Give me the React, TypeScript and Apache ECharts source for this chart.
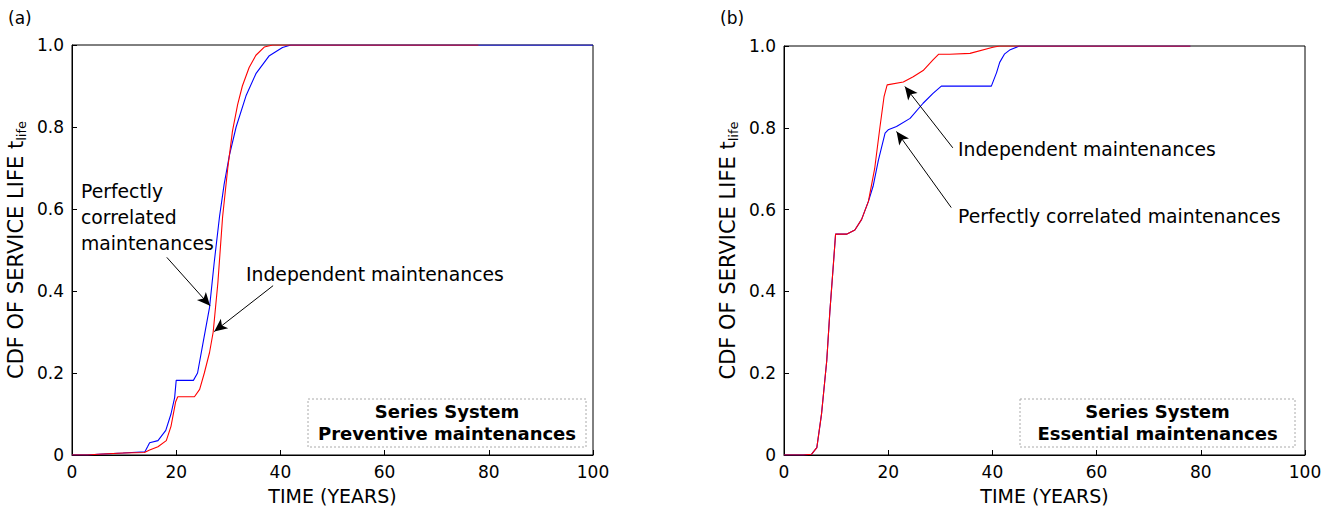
import React, { useEffect, useRef } from "react";
import * as echarts from "echarts";

// ---------- data ----------
// (a) Preventive maintenances
const aCorrT = [0, 3, 5, 9.8, 14, 14.5, 14.9, 16.5, 18, 19, 19.7, 20, 23.3, 24.1, 25.1, 26.4, 27.3, 28.3, 29.2, 30.2, 31.5, 33.4, 35.3, 37.8, 40.4, 42, 100];
const aCorrP = [0, 0, 0.002, 0.005, 0.008, 0.02, 0.03, 0.035, 0.06, 0.1, 0.14, 0.182, 0.182, 0.2, 0.27, 0.36, 0.47, 0.58, 0.66, 0.73, 0.8, 0.876, 0.93, 0.973, 0.994, 1, 1];
const aIndT = [0, 3, 5, 9.8, 13.9, 14.9, 16.5, 18.1, 19, 19.9, 20.3, 23.5, 24.5, 25.4, 26.4, 27.1, 28, 28.9, 29.9, 30.8, 31.8, 32.7, 34, 35.3, 36.9, 38.5, 78];
const aIndP = [0, 0, 0.002, 0.005, 0.006, 0.012, 0.02, 0.035, 0.07, 0.13, 0.142, 0.142, 0.16, 0.2, 0.25, 0.3, 0.42, 0.58, 0.7, 0.79, 0.855, 0.9, 0.945, 0.975, 0.995, 1, 1];

// (b) Essential maintenances
const bCorrT = [0, 3.7, 5.3, 6.3, 7.2, 8.2, 8.8, 9.5, 9.9, 12, 13.6, 14.9, 16.2, 17.1, 18.1, 19.4, 20, 21.6, 24.2, 26.7, 28.6, 30.2, 39.8, 40.8, 41.4, 42.3, 43.3, 45.2, 78];
const bCorrP = [0, 0, 0.002, 0.018, 0.1, 0.23, 0.35, 0.47, 0.54, 0.54, 0.55, 0.576, 0.62, 0.657, 0.72, 0.787, 0.795, 0.803, 0.823, 0.86, 0.884, 0.902, 0.902, 0.935, 0.96, 0.98, 0.99, 1, 1];
const bIndT = [0, 3.7, 5.3, 6.3, 7.2, 8.2, 8.8, 9.5, 9.9, 12, 13.6, 14.9, 16.2, 17.4, 18.4, 19.2, 19.8, 22.9, 24.8, 26.7, 28.6, 29.7, 31.8, 35.7, 40.1, 41.4, 78];
const bIndP = [0, 0, 0.002, 0.018, 0.1, 0.23, 0.35, 0.47, 0.54, 0.54, 0.55, 0.576, 0.62, 0.7, 0.8, 0.876, 0.905, 0.912, 0.925, 0.94, 0.966, 0.98, 0.98, 0.982, 0.997, 1, 1];

// annotation arrows in data coordinates: [fromT, fromP, toT, toP]
const aArrowCorr = [18.2, 0.482, 26.5, 0.364];
const aArrowInd = [38.6, 0.413, 27.3, 0.301];
const bArrowInd = [32.4, 0.751, 23.2, 0.901];
const bArrowCorr = [32.1, 0.605, 21.6, 0.791];

const xTicks = [0, 20, 40, 60, 80, 100];
const yTicks = [0, 0.2, 0.4, 0.6, 0.8, 1.0];

const FONT = "DejaVu Sans";

const zip = (t: number[], p: number[]) => t.map((v, i) => [v, p[i]]);

const arrow = (a: number[]) => [{ coord: [a[0], a[1]] }, { coord: [a[2], a[3]] }];

export default function App() {
  const ref = useRef<HTMLDivElement>(null);
  useEffect(() => {
    document.body.style.margin = "0";
    const chart = echarts.init(ref.current!, null, { renderer: "svg" });

    const mkX = (gi: number) => ({
      type: "value",
      gridIndex: gi,
      min: xTicks[0],
      max: xTicks[xTicks.length - 1],
      interval: 20,
      axisLine: { onZero: false, lineStyle: { color: "#000", width: 1 } },
      axisTick: { inside: true, length: 5, lineStyle: { color: "#000" } },
      axisLabel: { color: "#000", fontSize: 17, fontFamily: FONT, margin: 8 },
      splitLine: { show: false },
      name: "TIME (YEARS)",
      nameLocation: "middle",
      nameGap: 31,
      nameTextStyle: { color: "#000", fontSize: 19, fontFamily: FONT },
    });
    const mkY = (gi: number) => ({
      type: "value",
      gridIndex: gi,
      min: yTicks[0],
      max: yTicks[yTicks.length - 1],
      interval: 0.2,
      axisLine: { onZero: false, lineStyle: { color: "#000", width: 1 } },
      axisTick: { inside: true, length: 5, lineStyle: { color: "#000" } },
      axisLabel: {
        color: "#000",
        fontSize: 17,
        fontFamily: FONT,
        margin: 8,
        formatter: (v: number) => (v === 0 ? "0" : v.toFixed(1)),
      },
      splitLine: { show: false },
      name: "CDF OF SERVICE LIFE {m|t}{s|life}",
      nameLocation: "middle",
      nameGap: 44,
      nameTextStyle: {
        color: "#000",
        fontSize: 21,
        fontFamily: FONT,
        rich: {
          m: { fontSize: 21, fontFamily: FONT, color: "#000" },
          s: { fontSize: 13, fontFamily: FONT, color: "#000", padding: [11, 0, 0, 0] },
        },
      },
    });

    const markArrows = (list: number[][]) => ({
      silent: true,
      symbol: ["none", "arrow"],
      symbolSize: [9, 13],
      lineStyle: { color: "#000", width: 1, type: "solid" },
      label: { show: false },
      emphasis: { disabled: true },
      data: list.map(arrow),
    });

    const line = (name: string, data: number[][], color: string, gi: number, arrows?: number[][]) => ({
      type: "line",
      name,
      xAxisIndex: gi,
      yAxisIndex: gi,
      data,
      showSymbol: false,
      symbol: "none",
      lineStyle: { color, width: 1.1 },
      itemStyle: { color },
      z: color === "#ff0000" ? 3 : 2,
      ...(arrows ? { markLine: markArrows(arrows) } : {}),
    });

    const legendBox = (x: number, w: number, title: string) => [
      {
        type: "rect",
        shape: { x, y: 399, width: w, height: 48 },
        style: { fill: "#fff", stroke: "#aaa", lineWidth: 1, lineDash: [2, 2] },
        z: 10,
      },
      {
        type: "text",
        x: x + w / 2,
        y: 400,
        style: {
          text: "Series System\n" + title,
          font: `bold 18px "${FONT}"`,
          fill: "#000",
          textAlign: "center",
          lineHeight: 22,
        },
        z: 11,
      },
    ];

    const annText = (x: number, y: number, text: string) => ({
      type: "text",
      x,
      y,
      style: { text, font: `18.8px "${FONT}"`, fill: "#000", lineHeight: 26 },
      z: 11,
    });

    chart.setOption({
      animation: false,
      backgroundColor: "#fff",
      grid: [
        { left: 72, top: 45, width: 521, height: 411, show: true, borderColor: "#000", borderWidth: 1, backgroundColor: "transparent" },
        { left: 784, top: 46, width: 521, height: 411, show: true, borderColor: "#000", borderWidth: 1, backgroundColor: "transparent" },
      ],
      xAxis: [mkX(0), mkX(1)],
      yAxis: [mkY(0), mkY(1)],
      series: [
        line("Perfectly correlated (a)", zip(aCorrT, aCorrP), "#0000ff", 0, [aArrowCorr, aArrowInd]),
        line("Independent (a)", zip(aIndT, aIndP), "#ff0000", 0),
        line("Perfectly correlated (b)", zip(bCorrT, bCorrP), "#0000ff", 1, [bArrowInd, bArrowCorr]),
        line("Independent (b)", zip(bIndT, bIndP), "#ff0000", 1),
      ],
      graphic: [
        { type: "text", x: 8, y: 9, style: { text: "(a)", font: `17px "${FONT}"`, fill: "#000" } },
        { type: "text", x: 720, y: 9, style: { text: "(b)", font: `17px "${FONT}"`, fill: "#000" } },
        annText(81, 178, "Perfectly\ncorrelated\nmaintenances"),
        annText(246, 261, "Independent maintenances"),
        annText(958, 136, "Independent maintenances"),
        annText(958, 203, "Perfectly correlated maintenances"),
        ...legendBox(308, 278, "Preventive maintenances"),
        ...legendBox(1020, 275, "Essential maintenances"),
      ],
    });
    return () => chart.dispose();
  }, []);
  return <div ref={ref} style={{ width: 1337, height: 510 }} />;
}
